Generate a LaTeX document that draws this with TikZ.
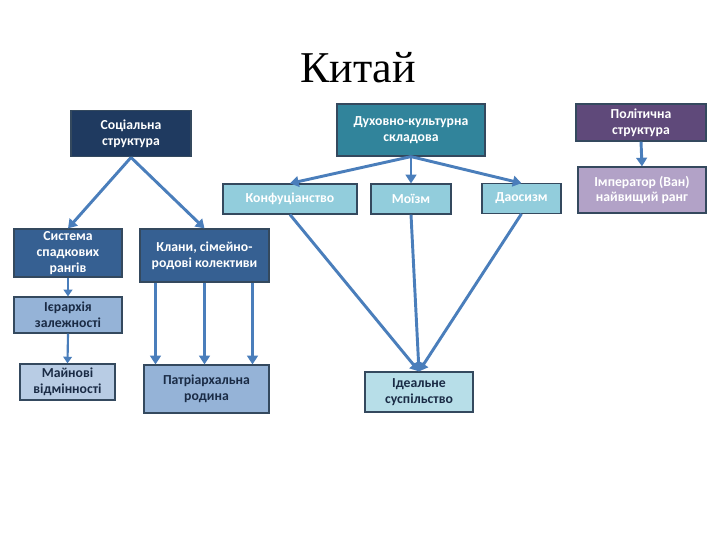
\documentclass[tikz,border=0pt]{standalone}
\usepackage{fontspec}
\usepackage{xcolor}
\usetikzlibrary{arrows.meta}
\setmainfont{Carlito}
\newfontfamily\titlefont{Liberation Serif}

\definecolor{socblue}{HTML}{1F3A60}
\definecolor{spirteal}{HTML}{31849B}
\definecolor{politpurple}{HTML}{5F497A}
\definecolor{lightteal}{HTML}{92CDDC}
\definecolor{lavender}{HTML}{B2A2C7}
\definecolor{midblue}{HTML}{366092}
\definecolor{paleblue}{HTML}{95B3D7}
\definecolor{palerblue}{HTML}{B8CCE4}
\definecolor{palecyan}{HTML}{B7DEE8}
\definecolor{arrowblue}{HTML}{4A7EBB}
\definecolor{edgegray}{HTML}{34495E}
\definecolor{darktext}{HTML}{1A2B45}

\tikzset{
  blk/.style={draw=edgegray, line width=0.9pt, inner sep=0pt, align=center,
    font=\fontsize{10.3}{11.8}\selectfont\bfseries},
  lightblk/.style={blk, text=white},
  darkblk/.style={blk, text=darktext},
  arr/.style={draw=arrowblue, line width=2.2pt,
    -{Triangle[width=8pt,length=6.5pt]}},
  thinarr/.style={draw=arrowblue, line width=1.6pt,
    -{Triangle[width=6.5pt,length=5pt]}}
}

\begin{document}
\begin{tikzpicture}[x=0.75pt, y=-0.75pt]
    % Page
    \useasboundingbox (0, 0) rectangle (720, 540);

    % Title
    \node[anchor=base, font=\titlefont\fontsize{33}{36}\selectfont] (title) at (358, 82) {Китай};

    % Top level
    \node[lightblk, fill=socblue, minimum width=90pt, minimum height=35pt] (soc) at (131, 133.5) {Соціальна\\структура};
    \node[lightblk, fill=spirteal, minimum width=111pt, minimum height=39pt] (spirit) at (411, 130) {Духовно-культурна\\складова};
    \node[lightblk, fill=politpurple, minimum width=97.5pt, minimum height=27.75pt] (polit) at (641, 122.5) {Політична\\структура};

    % Teachings
    \node[lightblk, fill=lightteal, minimum width=100.5pt, minimum height=22.5pt] (konf) at (290, 199) {Конфуціанство};
    \node[lightblk, fill=lightteal, minimum width=60pt, minimum height=22.5pt] (moizm) at (411, 199) {Моїзм};
    \node[lightblk, fill=lightteal, minimum width=59.25pt, minimum height=22pt] (daos) at (521.5, 198.5) {Даосизм};
    \node[lightblk, fill=lavender, minimum width=96pt, minimum height=34.5pt] (emperor) at (642, 190) {Імператор (Ван)\\найвищий ранг};

    % Social branch
    \node[lightblk, fill=midblue, minimum width=81pt, minimum height=36pt] (ranks) at (68, 253) {Система\\спадкових\\рангів};
    \node[lightblk, fill=midblue, minimum width=96.75pt, minimum height=39.75pt] (clans) at (204.5, 255.5) {Клани, сімейно-\\родові колективи};
    \node[darkblk, fill=paleblue, minimum width=81pt, minimum height=27pt] (hier) at (68, 315) {Ієрархія\\залежності};
    \node[darkblk, fill=palerblue, minimum width=71.25pt, minimum height=27pt] (property) at (67.5, 382) {Майнові\\відмінності};
    \node[darkblk, fill=paleblue, minimum width=93.75pt, minimum height=36pt] (family) at (206.5, 389) {Патріархальна\\родина};

    % Ideal
    \node[darkblk, fill=palecyan, minimum width=81pt, minimum height=30pt] (ideal) at (419, 392) {Ідеальне\\суспільство};

    % Arrows
    \draw[arr] (soc.south) -- (ranks.north);
    \draw[arr] (soc.south) -- (clans.north);
    \draw[arr] (spirit.south) -- (konf.north);
    \draw[arr] (spirit.south) -- (moizm.north);
    \draw[arr] (spirit.south) -- (daos.north);
    \draw[arr] (polit.south) -- (emperor.north);
    \draw[thinarr] (ranks.south) -- (hier.north);
    \draw[thinarr] (hier.south) -- (property.north);
    \foreach \dx in {-49, 0, 48}
      \draw[arr] ([xshift=\dx*0.75pt]clans.south) -- ([xshift=\dx*0.75pt]clans.south |- family.north);
    \draw[arr] (konf.south) -- (ideal.north);
    \draw[arr] (moizm.south) -- (ideal.north);
    \draw[arr] (daos.south) -- (ideal.north);
\end{tikzpicture}
\end{document}
